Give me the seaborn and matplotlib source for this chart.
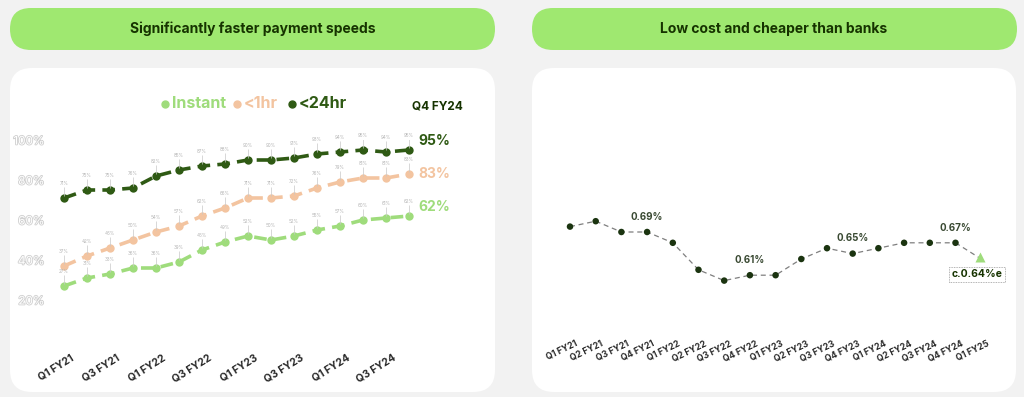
import numpy as np
import pandas as pd
import seaborn as sns
import matplotlib.pyplot as plt
import matplotlib.patheffects as pe
from matplotlib.patches import FancyBboxPatch
from matplotlib.transforms import ScaledTranslation

# left chart: share of payments arriving within a time
quarters_left = ["Q1 FY21", "Q2 FY21", "Q3 FY21", "Q4 FY21", "Q1 FY22", "Q2 FY22",
                 "Q3 FY22", "Q4 FY22", "Q1 FY23", "Q2 FY23", "Q3 FY23", "Q4 FY23",
                 "Q1 FY24", "Q2 FY24", "Q3 FY24", "Q4 FY24"]
instant = [27, 31, 33, 36, 36, 39, 45, 49, 52, 50, 52, 55, 57, 60, 61, 62]
within_1hr = [37, 42, 46, 50, 54, 57, 62, 66, 71, 71, 72, 76, 79, 81, 81, 83]
within_24hr = [71, 75, 75, 76, 82, 85, 87, 88, 90, 90, 91, 93, 94, 95, 94, 95]
series_names = ["Instant", "<1hr", "<24hr"]
left_yticks = [20, 40, 60, 80, 100]

# right chart: average take rate
quarters_right = quarters_left + ["Q1 FY25"]
take_rate = [0.70, 0.71, 0.69, 0.69, 0.67, 0.62, 0.60, 0.61, 0.61, 0.64, 0.66,
             0.65, 0.66, 0.67, 0.67, 0.67]
take_rate_est = 0.64
labelled_quarters = ["Q4 FY21", "Q4 FY22", "Q4 FY23", "Q4 FY24"]

BG = "#f2f2f2"
PILL = "#9fe870"
FOREST = "#163300"
C_INSTANT = "#9fdc7c"
C_1HR = "#f3c4a0"
C_24HR = "#2f5a14"

sns.set_theme(style="white")
plt.rcParams["font.family"] = ["Inter", "DejaVu Sans"]

W, H = 1024, 397
fig = plt.figure(figsize=(W / 100, H / 100), dpi=100)
fig.patch.set_facecolor(BG)

# background axes in pixel coordinates for panels and headers
bg = fig.add_axes([0, 0, 1, 1], zorder=0)
bg.set_xlim(0, W)
bg.set_ylim(H, 0)
bg.axis("off")


def rbox(x0, y0, x1, y1, r, color):
    bg.add_patch(FancyBboxPatch((x0, y0), x1 - x0, y1 - y0,
                                boxstyle=f"round,pad=0,rounding_size={r}",
                                fc=color, ec="none"))


rbox(10, 8, 495, 50, 21, PILL)
rbox(532, 8, 1017, 50, 21, PILL)
rbox(10, 68, 495, 392, 22, "white")
rbox(532, 68, 1016, 392, 22, "white")
bg.text(253, 29, "Significantly faster payment speeds", ha="center", va="center",
        fontsize=10, fontweight="bold", color=FOREST)
bg.text(774, 29, "Low cost and cheaper than banks", ha="center", va="center",
        fontsize=10, fontweight="bold", color=FOREST)

# legend of the left chart
legend_x = [165, 237, 292]
for name, col, lx in zip(series_names, [C_INSTANT, C_1HR, C_24HR], legend_x):
    bg.plot(lx, 104, "o", ms=5, color=col)
    bg.text(lx + 7, 104, name, ha="left", va="center", fontsize=11.5,
            fontweight="bold", color=col)
bg.text(437, 106, "Q4 FY24", ha="center", va="center", fontsize=8.5,
        fontweight="bold", color=FOREST)


def px_axes(x0, x1, y0, y1):
    ax = fig.add_axes([x0 / W, 1 - y1 / H, (x1 - x0) / W, (y1 - y0) / H], zorder=1)
    ax.set_facecolor("none")
    for s in ax.spines.values():
        s.set_visible(False)
    return ax


# ---- left chart ----
ax1 = px_axes(64 - 0.6 * 23, 64 + 15.7 * 23, 140, 340)
ax1.set_xlim(-0.6, 15.7)
ax1.set_ylim(0, 100)

df_left = pd.DataFrame({"quarter": quarters_left * 3,
                        "idx": list(range(16)) * 3,
                        "value": instant + within_1hr + within_24hr,
                        "series": sum([[n] * 16 for n in series_names], [])})
palette = {"Instant": C_INSTANT, "<1hr": C_1HR, "<24hr": C_24HR}
sns.lineplot(data=df_left, x="idx", y="value", hue="series", palette=palette,
             marker="o", markersize=6, markeredgewidth=0, linewidth=2.6,
             dashes=False, linestyle=(0, (3.5, 2)), legend=False, ax=ax1)

for vals in [instant, within_1hr, within_24hr]:
    for i, v in enumerate(vals):
        ax1.vlines(i, v + 0.8, v + 5.5, color="#c8c8c8", lw=0.5)
        ax1.text(i, v + 5.8, f"{v}%", ha="center", va="bottom", fontsize=3.3,
                 color="#b5b5b5")

for vals, col, off in zip([instant, within_1hr, within_24hr],
                          [C_INSTANT, C_1HR, C_24HR], [9, 0, 9]):
    ax1.annotate(f"{vals[-1]}%", (15, vals[-1]), xytext=(6.5, off * 0.72),
                 textcoords="offset points", ha="left", va="center",
                 fontsize=10, fontweight="bold", color=col)

ax1.set_yticks(left_yticks)
ax1.set_yticklabels([f"{t}%" for t in left_yticks])
ax1.tick_params(axis="y", length=0, pad=4, labelsize=8.5, labelcolor="white")
for lab in ax1.get_yticklabels():
    lab.set_path_effects([pe.withStroke(linewidth=1.2, foreground="#cfcfcf")])
ax1.set_xticks(range(0, 16, 2))
ax1.set_xticklabels(quarters_left[::2], rotation=32, ha="right",
                    rotation_mode="anchor", fontsize=7.5, fontweight="bold",
                    color="#2a2a2a")
ax1.tick_params(axis="x", length=0, pad=9)
shift = ScaledTranslation(6 / 100, 0, fig.dpi_scale_trans)
for lab in ax1.get_xticklabels():
    lab.set_transform(lab.get_transform() + shift)
ax1.set_xlabel("")
ax1.set_ylabel("")

# ---- right chart ----
step = 25.7
ax2 = px_axes(570 - 0.8 * step, 570 + 16.6 * step, 232 - 6 * 5.4, 232 + 19 * 5.4)
ax2.set_xlim(-0.8, 16.6)
ax2.set_ylim(0.50, 0.75)

df_right = pd.DataFrame({"idx": range(len(take_rate)), "rate": take_rate})
sns.lineplot(data=df_right, x="idx", y="rate", color="#7f7f7f", linewidth=0.9,
             linestyle=(0, (4, 3)), ax=ax2)
sns.scatterplot(data=df_right, x="idx", y="rate", color="#1b3410", s=22,
                edgecolor="none", zorder=3, ax=ax2)
n = len(take_rate)
ax2.plot([n - 1, n], [take_rate[-1], take_rate_est], color="#7f7f7f",
         lw=0.9, ls=(0, (4, 3)))
ax2.plot(n - 0.05, take_rate_est + 0.004, marker="^", ms=7, color=C_INSTANT,
         mec="none", zorder=4)
ax2.annotate(f"c.{take_rate_est:.2f}%e", (n, take_rate_est), xytext=(-3, -11),
             textcoords="offset points", ha="center", va="center", fontsize=7.5,
             fontweight="bold", color=FOREST,
             bbox=dict(boxstyle="square,pad=0.25", fc="white", ec="#9a9a9a",
                       lw=0.6, ls=(0, (1, 1))))
for q in labelled_quarters:
    i = quarters_right.index(q)
    ax2.annotate(f"{take_rate[i]:.2f}%", (i, take_rate[i]), xytext=(0, 11),
                 textcoords="offset points", ha="center", va="center",
                 fontsize=7, fontweight="bold", color="#3a4a33")

ax2.set_yticks([])
ax2.set_xticks(range(len(quarters_right)))
ax2.set_xticklabels(quarters_right, rotation=26, ha="right",
                    rotation_mode="anchor", fontsize=6.3, fontweight="bold",
                    color="#2a2a2a")
ax2.tick_params(axis="x", length=0, pad=3)
shift2 = ScaledTranslation(5 / 100, 0, fig.dpi_scale_trans)
for lab in ax2.get_xticklabels():
    lab.set_transform(lab.get_transform() + shift2)
ax2.set_xlabel("")
ax2.set_ylabel("")

fig.savefig("out.png", dpi=100, facecolor=BG)
